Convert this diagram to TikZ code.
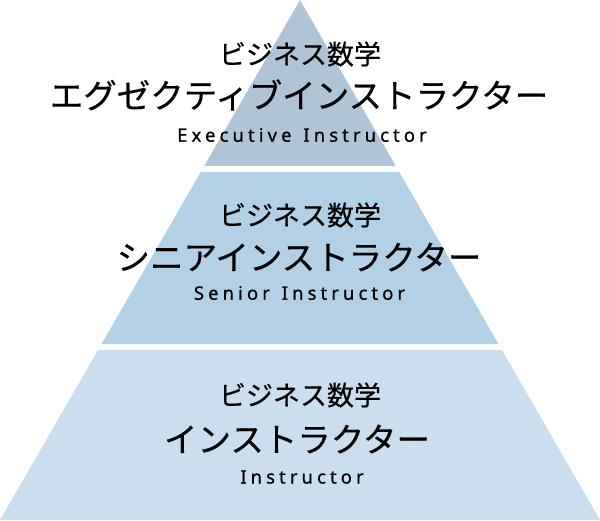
\documentclass[tikz,border=0pt]{standalone}
\usepackage{fontspec}
\setmainfont{Noto Sans CJK JP}
\newfontfamily\jpfont[FakeBold=0.4]{Noto Sans CJK JP}
\newfontfamily\enfont[LetterSpace=22,FakeBold=0.6]{Noto Sans}
\definecolor{tierA}{HTML}{B0C4D8}
\definecolor{tierB}{HTML}{B3D1E6}
\definecolor{tierC}{HTML}{CBDEEF}
\tikzset{
  small/.style={font=\jpfont\fontsize{27}{30}\selectfont, inner sep=0pt},
  big/.style={font=\jpfont\fontsize{33.5}{36}\selectfont, inner sep=0pt},
  eng/.style={font=\enfont\fontsize{18.5}{20}\selectfont, inner sep=0pt},
}
\begin{document}
\begin{tikzpicture}[x=1pt,y=-1pt]
\useasboundingbox (0,0) rectangle (600,520);
% tiers: apex (300,0), base (0,520)-(600,520); x at y: 300 -+ 300*y/520
\fill[tierA] (300,0) -- (395.77,166) -- (204.23,166) -- cycle;
\fill[tierB] (200.77,172) -- (399.23,172) -- (498.46,344) -- (101.54,344) -- cycle;
\fill[tierC] (98.08,350) -- (501.92,350) -- (600,520) -- (0,520) -- cycle;
% top tier
\node[small] (t1) at (300,54) {ビジネス数学};
\node[big]   (t2) at (299,95) {エグゼクティブインストラクター};
\node[eng]   (t3) at (302,135) {Executive\hspace{3pt} Instructor};
% middle tier
\node[small] (m1) at (300,215) {ビジネス数学};
\node[big]   (m2) at (299,257) {シニアインストラクター};
\node[eng]   (m3) at (299.5,293) {Senior\hspace{3pt} Instructor};
% bottom tier
\node[small] (b1) at (300,395) {ビジネス数学};
\node[big]   (b2) at (297,439) {インストラクター};
\node[eng]   (b3) at (302,477) {Instructor};
\end{tikzpicture}
\end{document}
